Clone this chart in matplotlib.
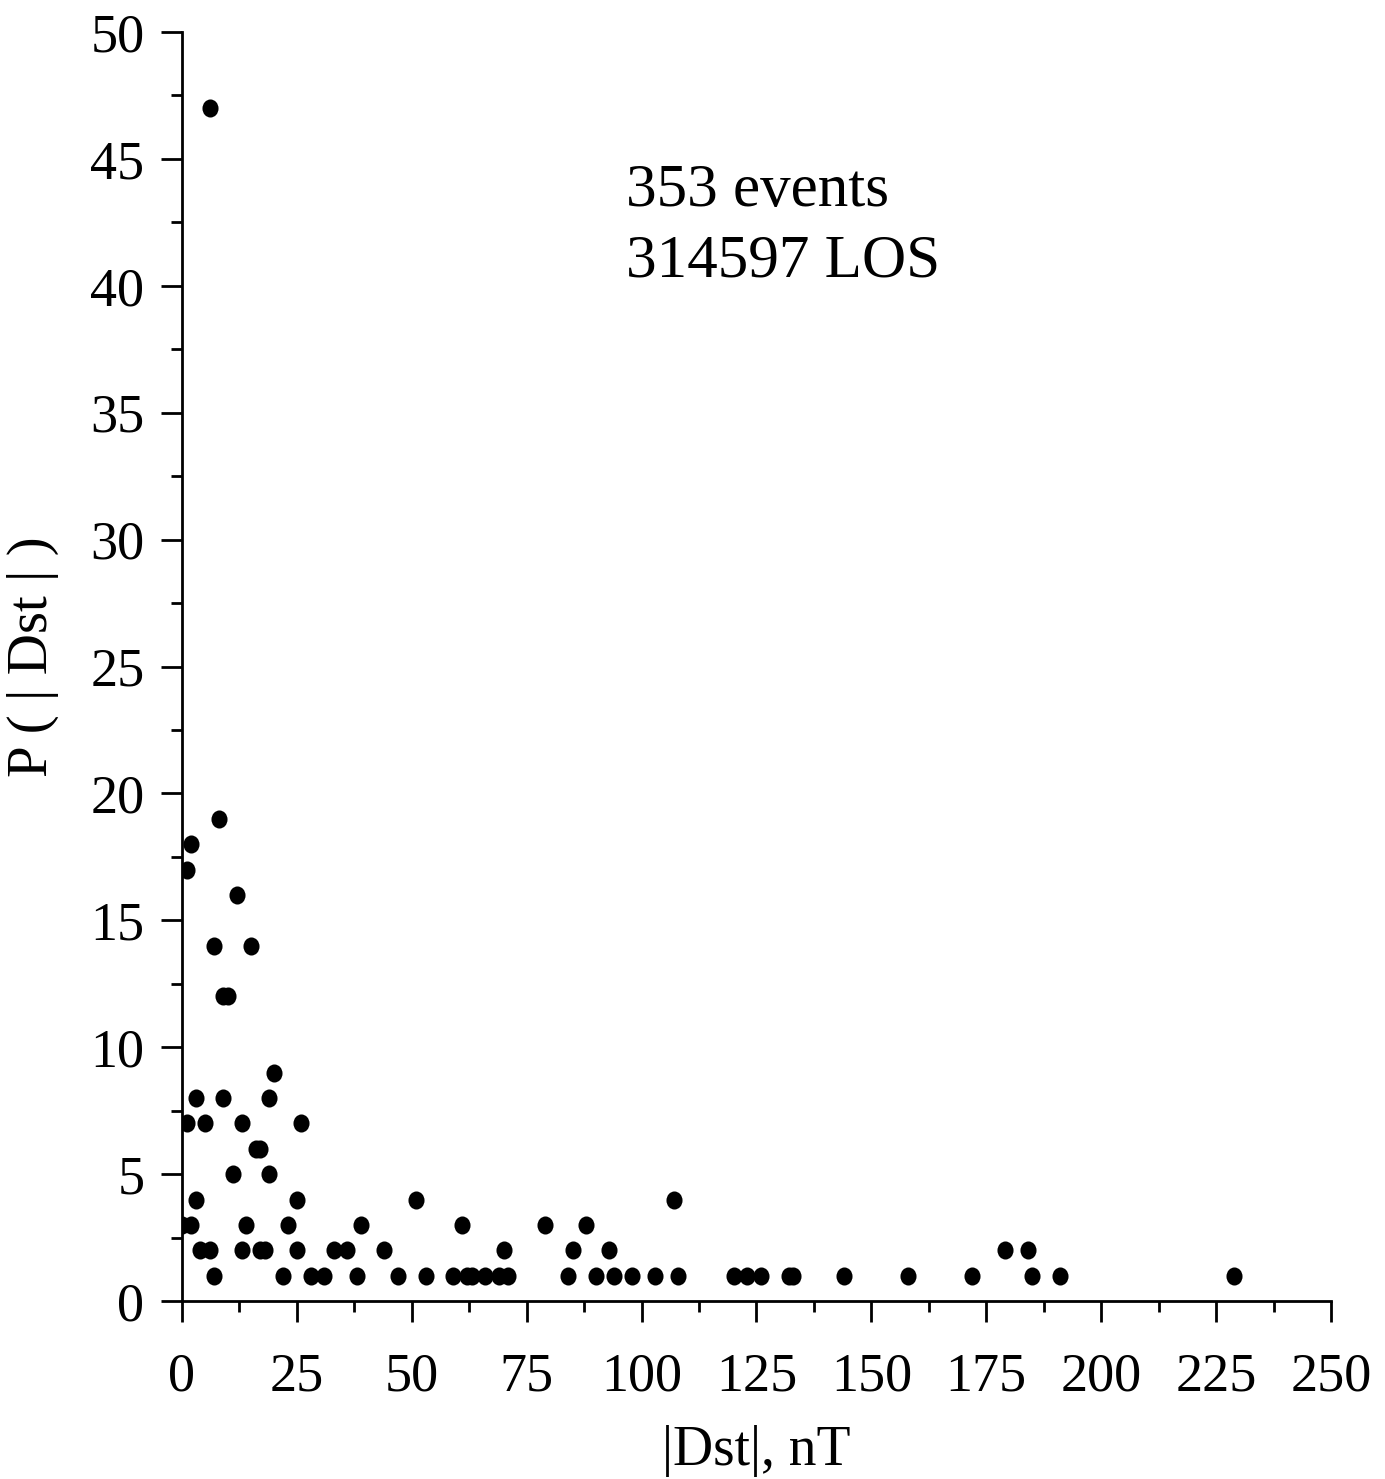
import matplotlib
matplotlib.use("Agg")
import matplotlib.pyplot as plt
from matplotlib.ticker import MultipleLocator
from matplotlib.path import Path
from matplotlib.transforms import Affine2D

plt.rcParams['font.family'] = ['Liberation Serif', 'DejaVu Serif']

# |Dst| (nT) and P(|Dst|)
dst = [6, 1, 2, 8, 12, 7, 15, 9, 10, 20,
       3, 9, 19, 1, 5, 13, 26, 16, 17, 11, 19,
       3, 25, 51, 107,
       0, 2, 14, 23, 39, 61, 79, 88,
       4, 6, 13, 17, 18, 25, 33, 36, 44, 70, 85, 93, 179, 184,
       7, 22, 28, 31, 38, 47, 53, 59, 62, 63, 66, 69, 71, 84, 90, 94, 98,
       103, 108, 120, 123, 126, 132, 133, 144, 158, 172, 185, 191, 229]
prob = [47, 17, 18, 19, 16, 14, 14, 12, 12, 9,
        8, 8, 8, 7, 7, 7, 7, 6, 6, 5, 5,
        4, 4, 4, 4,
        3, 3, 3, 3, 3, 3, 3, 3,
        2, 2, 2, 2, 2, 2, 2, 2, 2, 2, 2, 2, 2, 2,
        1, 1, 1, 1, 1, 1, 1, 1, 1, 1, 1, 1, 1, 1, 1, 1, 1,
        1, 1, 1, 1, 1, 1, 1, 1, 1, 1, 1, 1, 1]

# slightly tall dots, like the original
dot = Path.unit_circle().transformed(Affine2D().scale(0.89, 1.0))

fig = plt.figure(figsize=(13.85, 14.79), dpi=100)
ax = fig.add_axes([0.1314, 0.1203, 0.8296, 0.8581])

ax.plot(dst, prob, linestyle='none', marker=dot, color='black',
        markersize=13, markeredgewidth=0)

ax.set_xlim(0, 250)
ax.set_ylim(0, 50)
ax.xaxis.set_major_locator(MultipleLocator(25))
ax.xaxis.set_minor_locator(MultipleLocator(12.5))
ax.yaxis.set_major_locator(MultipleLocator(5))
ax.yaxis.set_minor_locator(MultipleLocator(2.5))

for s in ['top', 'right']:
    ax.spines[s].set_visible(False)
for s in ['left', 'bottom']:
    ax.spines[s].set_linewidth(2)

ax.tick_params(which='major', direction='out', length=15, width=2, labelsize=39)
ax.tick_params(which='minor', direction='out', length=8, width=2)
ax.tick_params(axis='y', which='major', pad=12)
ax.tick_params(axis='x', which='major', pad=22)

ax.set_xlabel('|Dst|, nT', fontsize=40, labelpad=16)
ax.set_ylabel('P ( | Dst | )', fontsize=41, labelpad=22)
ax.yaxis.set_label_coords(-0.107, 0.508)

ax.text(96.5, 44.8, '353 events\n314597 LOS', fontsize=44, va='top', ha='left',
        linespacing=1.35)

fig.savefig('out.png', dpi=100)
